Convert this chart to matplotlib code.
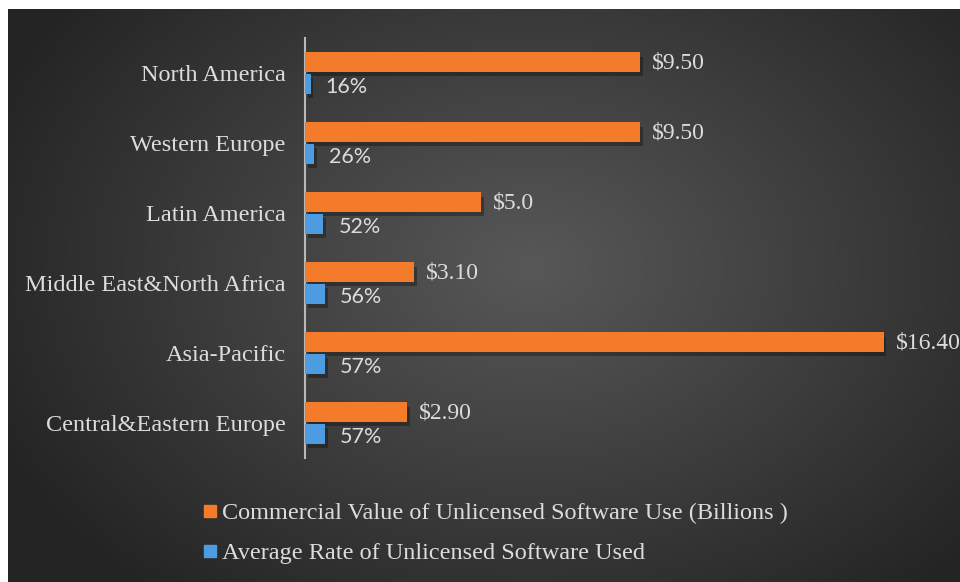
import numpy as np
import matplotlib.pyplot as plt
import matplotlib.patheffects as pe
from matplotlib.lines import Line2D

regions = ["North America", "Western Europe", "Latin America",
           "Middle East&North Africa", "Asia-Pacific", "Central&Eastern Europe"]
commercial_value = [9.50, 9.50, 5.0, 3.10, 16.40, 2.90]
value_labels = ["$9.50", "$9.50", "$5.0", "$3.10", "$16.40", "$2.90"]
unlicensed_rate = [0.16, 0.26, 0.52, 0.56, 0.57, 0.57]

series_names = ["Commercial Value of Unlicensed Software Use (Billions )",
                "Average Rate of Unlicensed Software Used"]

ORANGE = "#f37b2a"
BLUE = "#4d9be0"
TEXT = "#dcdcdc"
SERIF = ["Liberation Serif", "DejaVu Serif"]
SANS = ["Lato", "DejaVu Sans"]

W, H = 960, 582
fig = plt.figure(figsize=(W / 100, H / 100), dpi=100, facecolor="white")

# dark radial background
bg = fig.add_axes([8 / W, 0, (W - 8) / W, (H - 9) / H], zorder=-5)
gx, gy = np.meshgrid(np.linspace(0, 1, 400), np.linspace(0, 1, 250))
r = np.sqrt(((gx - 0.55) / 0.62) ** 2 + ((gy - 0.55) / 0.75) ** 2)
r = np.clip(r, 0, 1)
inner, outer = np.array([0x58, 0x58, 0x58]) / 255, np.array([0x24, 0x24, 0x24]) / 255
img = inner[None, None, :] * (1 - r[..., None]) + outer[None, None, :] * r[..., None]
bg.imshow(img, aspect="auto", extent=[0, 1, 0, 1], origin="lower")
bg.axis("off")

ax = fig.add_axes([305 / W, 124 / H, 635 / W, 420 / H])
ax.set_facecolor("none")

y = np.arange(len(regions))
off, hgt = 0.155, 0.28
shadow = [pe.SimplePatchShadow(offset=(2, -3), shadow_rgbFace="black", alpha=0.3), pe.Normal()]

ax.barh(y - off, commercial_value, height=hgt, color=ORANGE, path_effects=shadow, zorder=3)
ax.barh(y + off, unlicensed_rate, height=hgt, color=BLUE, path_effects=shadow, zorder=3)

for i in range(len(regions)):
    ax.annotate(value_labels[i], xy=(commercial_value[i], y[i] - off), xytext=(12, -1),
                textcoords="offset pixels", va="center", ha="left",
                color=TEXT, fontsize=17, family=SERIF)
    ax.annotate(f"{unlicensed_rate[i] * 100:.0f}%", xy=(unlicensed_rate[i], y[i] + off),
                xytext=(15, -3), textcoords="offset pixels", va="center", ha="left",
                color=TEXT, fontsize=15.5, family=SANS)

ax.set_xlim(0, 18)
ax.set_ylim(len(regions) - 0.5, -0.5)
ax.set_xticks([])
ax.set_yticks(y)
ax.set_yticklabels(regions, family=SERIF, fontsize=17.5, color=TEXT)
ax.tick_params(axis="y", length=0, pad=14)
for s in ["top", "right", "bottom"]:
    ax.spines[s].set_visible(False)
ax.spines["left"].set_color("#b8b8b8")
ax.spines["left"].set_linewidth(1.5)

handles = [Line2D([], [], marker="s", linestyle="none", markersize=8.5, color=ORANGE),
           Line2D([], [], marker="s", linestyle="none", markersize=8.5, color=BLUE)]
fig.legend(handles, series_names, loc="upper left", bbox_to_anchor=(189 / W, 1 - 490 / H),
           frameon=False, handlelength=0.7, handletextpad=0.15, labelspacing=0.75,
           prop={"family": SERIF, "size": 17.5}, labelcolor=TEXT, borderpad=0)

fig.savefig("out.png", dpi=100, facecolor="white")
